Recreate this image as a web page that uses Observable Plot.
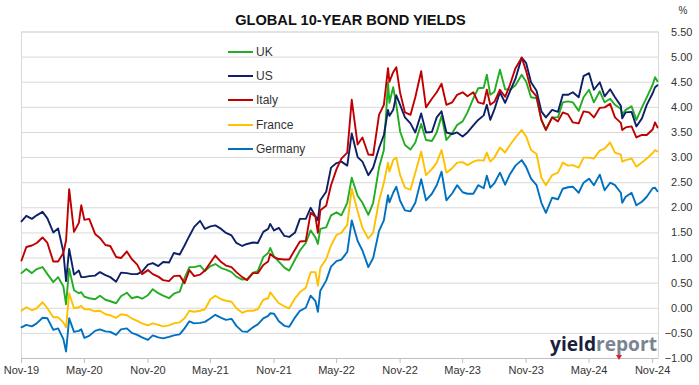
<!DOCTYPE html>
<html>
<head>
<meta charset="utf-8">
<script src="https://cdn.jsdelivr.net/npm/d3@7"></script>
<script src="https://cdn.jsdelivr.net/npm/@observablehq/plot@0.6"></script>
<style>
  html, body { margin: 0; padding: 0; background: #fff; }
  #chart svg { display: block; }
</style>
</head>
<body>
<div id="chart"></div>
<script>
const title = "GLOBAL 10-YEAR BOND YIELDS";
const unitLabel = "%";
const seriesNames = ["UK", "US", "Italy", "France", "Germany"];
const seriesColors = ["#22ad22", "#0f2166", "#c00000", "#ffc000", "#0070c0"];
const yTicks = [-1, -0.5, 0, 0.5, 1, 1.5, 2, 2.5, 3, 3.5, 4, 4.5, 5, 5.5];
const xTickLabels = ["2019-11-01","2020-05-01","2020-11-01","2021-05-01","2021-11-01","2022-05-01","2022-11-01","2023-05-01","2023-11-01","2024-05-01","2024-11-01"];

const dates = [
"2019-11-01","2019-11-15","2019-12-01","2019-12-15","2020-01-01","2020-01-15","2020-02-01","2020-02-15",
"2020-03-01","2020-03-09","2020-03-18","2020-04-01","2020-04-15","2020-04-22","2020-05-01","2020-05-15",
"2020-06-01","2020-06-15","2020-07-01","2020-07-15","2020-08-01","2020-08-15","2020-09-01","2020-09-15",
"2020-10-01","2020-10-15","2020-11-01","2020-11-15","2020-12-01","2020-12-15","2021-01-01","2021-01-15",
"2021-02-01","2021-02-15","2021-03-01","2021-03-15","2021-04-01","2021-04-15","2021-05-01","2021-05-15",
"2021-06-01","2021-06-15","2021-07-01","2021-07-15","2021-08-01","2021-08-15","2021-09-01","2021-09-15",
"2021-10-01","2021-10-15","2021-10-21","2021-11-01","2021-11-15","2021-12-01","2021-12-15","2022-01-01",
"2022-01-15","2022-02-01","2022-02-15","2022-03-01","2022-03-08","2022-03-15","2022-04-01","2022-04-15",
"2022-05-01","2022-05-15","2022-06-01","2022-06-14","2022-07-01","2022-07-15","2022-08-01","2022-08-15",
"2022-09-01","2022-09-15","2022-09-27","2022-10-01","2022-10-12","2022-10-21","2022-11-01","2022-11-15",
"2022-12-01","2022-12-15","2023-01-01","2023-01-15","2023-02-01","2023-02-15","2023-03-01","2023-03-15",
"2023-04-01","2023-04-15","2023-05-01","2023-05-15","2023-06-01","2023-06-15","2023-07-01","2023-07-10",
"2023-07-20","2023-08-01","2023-08-17","2023-09-01","2023-09-15","2023-10-01","2023-10-19","2023-11-01",
"2023-11-15","2023-12-01","2023-12-15","2023-12-28","2024-01-15","2024-02-01","2024-02-15","2024-03-01",
"2024-03-15","2024-04-01","2024-04-15","2024-05-01","2024-05-15","2024-06-01","2024-06-15","2024-07-01",
"2024-07-15","2024-08-01","2024-08-05","2024-08-15","2024-09-01","2024-09-15","2024-10-01","2024-10-15",
"2024-11-01","2024-11-08","2024-11-15"
];

const uk = [
0.70,0.78,0.70,0.78,0.82,0.68,0.52,0.62,
0.44,0.08,0.79,0.36,0.30,0.32,0.23,0.20,
0.18,0.25,0.17,0.14,0.10,0.24,0.31,0.20,
0.23,0.19,0.26,0.38,0.30,0.25,0.20,0.29,
0.33,0.60,0.82,0.82,0.85,0.74,0.84,0.88,
0.80,0.77,0.72,0.63,0.57,0.58,0.71,0.74,
1.02,1.10,1.20,1.03,0.93,0.81,0.75,0.97,
1.15,1.30,1.55,1.41,1.28,1.58,1.61,1.85,
1.91,1.85,2.10,2.60,2.24,2.10,1.86,2.10,
2.80,3.15,4.50,4.09,4.40,4.05,3.52,3.25,
3.16,3.30,3.67,3.35,3.33,3.50,3.83,3.35,
3.49,3.65,3.72,3.90,4.18,4.38,4.39,4.65,
4.25,4.31,4.75,4.36,4.35,4.44,4.65,4.51,
4.20,4.18,3.75,3.55,3.80,3.80,4.10,4.12,
4.10,3.93,4.20,4.35,4.10,4.32,4.10,4.17,
4.05,3.97,3.85,3.95,4.02,3.75,4.00,4.20,
4.45,4.60,4.52
];

const us = [
1.73,1.84,1.78,1.85,1.92,1.79,1.51,1.59,
1.13,0.54,1.18,0.67,0.75,0.62,0.62,0.64,
0.65,0.72,0.66,0.62,0.53,0.71,0.70,0.68,
0.68,0.73,0.87,0.90,0.84,0.92,0.91,1.10,
1.07,1.25,1.44,1.62,1.74,1.58,1.63,1.65,
1.58,1.50,1.45,1.30,1.24,1.28,1.31,1.30,
1.52,1.58,1.68,1.55,1.60,1.44,1.42,1.51,
1.78,1.78,2.00,1.83,1.75,2.15,2.32,2.80,
2.89,2.92,2.84,3.48,3.01,2.92,2.65,2.80,
3.19,3.45,3.95,3.83,3.95,4.24,4.05,3.80,
3.68,3.50,3.88,3.50,3.51,3.80,3.92,3.50,
3.47,3.50,3.42,3.50,3.64,3.75,3.84,4.05,
3.75,3.96,4.30,4.09,4.32,4.57,4.99,4.88,
4.50,4.33,3.92,3.80,3.95,3.91,4.25,4.25,
4.30,4.20,4.62,4.68,4.35,4.50,4.22,4.36,
4.20,4.03,3.78,3.90,3.91,3.62,3.78,4.05,
4.28,4.40,4.44
];

const italy = [
0.95,1.22,1.25,1.30,1.41,1.30,0.93,0.93,
1.10,1.35,2.37,1.52,1.70,2.05,1.76,1.78,
1.48,1.40,1.26,1.24,1.02,1.00,1.13,0.98,
0.87,0.68,0.76,0.68,0.63,0.56,0.54,0.64,
0.65,0.50,0.76,0.64,0.67,0.75,0.91,1.05,
0.92,0.85,0.82,0.72,0.62,0.56,0.70,0.70,
0.86,0.93,1.08,1.02,0.98,0.97,0.97,1.17,
1.33,1.34,1.90,1.82,1.50,1.95,2.04,2.45,
2.77,2.98,3.10,4.15,3.26,3.40,3.06,3.05,
3.85,4.05,4.78,4.51,4.70,4.80,4.29,3.90,
3.85,4.20,4.72,4.00,4.17,4.30,4.47,4.05,
4.10,4.25,4.30,4.22,4.30,4.10,4.07,4.35,
4.05,4.11,4.35,4.21,4.45,4.78,4.99,4.72,
4.35,4.22,3.75,3.55,3.80,3.72,3.90,3.86,
3.70,3.68,3.92,3.90,3.80,3.99,4.00,4.07,
3.80,3.69,3.55,3.60,3.62,3.40,3.45,3.45,
3.56,3.70,3.60
];

const france = [
-0.05,0.02,-0.04,0.00,0.12,0.00,-0.18,-0.18,
-0.28,-0.38,0.30,0.00,0.02,0.05,-0.02,-0.02,
-0.06,-0.05,-0.12,-0.14,-0.19,-0.12,-0.14,-0.20,
-0.25,-0.30,-0.34,-0.30,-0.33,-0.36,-0.34,-0.30,
-0.28,-0.20,-0.05,-0.07,-0.05,-0.02,0.18,0.25,
0.18,0.15,0.13,0.00,-0.09,-0.05,-0.05,-0.02,
0.17,0.20,0.32,0.22,0.10,0.04,0.00,0.20,
0.32,0.41,0.72,0.72,0.45,0.80,0.98,1.25,
1.46,1.50,1.66,2.38,1.93,1.60,1.39,1.50,
2.14,2.50,2.90,2.72,2.95,3.00,2.65,2.40,
2.36,2.70,3.12,2.65,2.77,2.90,3.15,2.70,
2.79,2.90,2.91,2.85,2.92,2.95,2.94,3.10,
2.92,3.00,3.20,3.10,3.25,3.40,3.55,3.42,
3.15,3.07,2.60,2.45,2.65,2.70,2.90,2.84,
2.85,2.80,3.00,3.00,2.98,3.14,3.18,3.30,
3.10,3.06,2.92,2.95,2.98,2.82,2.90,2.98,
3.09,3.15,3.12
];

const germany = [
-0.38,-0.33,-0.36,-0.30,-0.19,-0.20,-0.43,-0.40,
-0.61,-0.86,-0.20,-0.47,-0.45,-0.42,-0.59,-0.55,
-0.45,-0.42,-0.46,-0.47,-0.53,-0.42,-0.40,-0.49,
-0.53,-0.58,-0.63,-0.54,-0.58,-0.60,-0.57,-0.54,
-0.52,-0.40,-0.26,-0.30,-0.29,-0.27,-0.20,-0.13,
-0.19,-0.23,-0.21,-0.35,-0.46,-0.47,-0.38,-0.32,
-0.20,-0.15,-0.10,-0.11,-0.26,-0.35,-0.37,-0.18,
-0.05,0.01,0.25,0.14,-0.07,0.35,0.55,0.83,
0.94,0.97,1.12,1.75,1.34,1.15,0.82,1.00,
1.54,1.75,2.25,2.11,2.30,2.42,2.14,1.95,
1.93,2.10,2.57,2.15,2.28,2.45,2.72,2.15,
2.29,2.45,2.31,2.28,2.28,2.45,2.39,2.64,
2.40,2.49,2.70,2.46,2.67,2.84,2.95,2.81,
2.58,2.45,2.10,1.90,2.20,2.17,2.38,2.41,
2.42,2.30,2.50,2.58,2.45,2.66,2.35,2.50,
2.45,2.30,2.10,2.22,2.30,2.05,2.12,2.22,
2.39,2.40,2.33
];

const seriesValues = [uk, us, italy, france, germany];
const parse = d3.utcParse("%Y-%m-%d");
const rows = [];
seriesNames.forEach((name, i) => {
  dates.forEach((d, j) => rows.push({series: name, date: parse(d), value: seriesValues[i][j]}));
});
const tickDates = xTickLabels.map(parse);
const grey = "#d9d9d9";
const font = "'Liberation Sans', Arial, sans-serif";

const chart = Plot.plot({
  width: 699,
  height: 385,
  marginLeft: 21,
  marginRight: 41,
  marginTop: 31.5,
  marginBottom: 27,
  style: {fontFamily: font, fontSize: "11px", color: "#333", background: "#fff"},
  x: {type: "utc", domain: [parse("2019-11-01"), parse("2024-11-18")]},
  y: {domain: [-1, 5.5]},
  color: {domain: seriesNames, range: seriesColors},
  marks: [
    Plot.gridY(yTicks, {stroke: grey, strokeOpacity: 1}),
    Plot.frame({stroke: grey}),
    Plot.ruleY([-1], {stroke: "#bfbfbf"}),
    Plot.axisY(yTicks, {anchor: "right", tickSize: 0, tickPadding: 34, textAnchor: "end", tickFormat: d3.format(".2f"), label: null, fill: "#333"}),
    Plot.axisX(tickDates, {tickFormat: d3.utcFormat("%b-%y"), tickSize: 5, tickPadding: 3, stroke: "#bfbfbf", label: null, fill: "#333"}),
    ...seriesNames.map(name => Plot.line(rows.filter(r => r.series === name), {x: "date", y: "value", stroke: "series", strokeWidth: 1.9, curve: "linear"}))
  ]
});
document.getElementById("chart").appendChild(chart);

const svg = d3.select(chart);
// title
svg.append("text").attr("x", 350.5).attr("y", 25).attr("text-anchor", "middle")
  .attr("font-family", font).attr("font-weight", "bold")
  .attr("font-size", 14.6).attr("fill", "#111").text(title);
// unit
svg.append("text").attr("x", 683).attr("y", 14).attr("text-anchor", "middle")
  .attr("font-family", font).attr("font-size", 10).attr("fill", "#333").text(unitLabel);
// legend
const legendY = [52, 76, 100, 125, 149];
seriesNames.forEach((name, i) => {
  svg.append("line").attr("x1", 228).attr("x2", 253).attr("y1", legendY[i]).attr("y2", legendY[i])
    .attr("stroke", seriesColors[i]).attr("stroke-width", 2);
  svg.append("text").attr("x", 256).attr("y", legendY[i]).attr("dy", "0.35em").attr("text-anchor", "start")
    .attr("font-family", font).attr("font-size", 12).attr("fill", "#333").text(name);
});
// logo
const logo = svg.append("text").attr("x", 550).attr("y", 351).attr("text-anchor", "start")
  .attr("font-family", "'Open Sans', sans-serif").attr("font-weight", "bold").attr("font-size", 20)
  .attr("textLength", 107).attr("lengthAdjust", "spacingAndGlyphs");
logo.append("tspan").attr("fill", "#1b1f3d").text("yield");
logo.append("tspan").attr("fill", "#7b8492").text("report");
svg.append("path").attr("d", "M616,355 L622,355 L619,360 Z").attr("fill", "#e0202a");
</script>
</body>
</html>
